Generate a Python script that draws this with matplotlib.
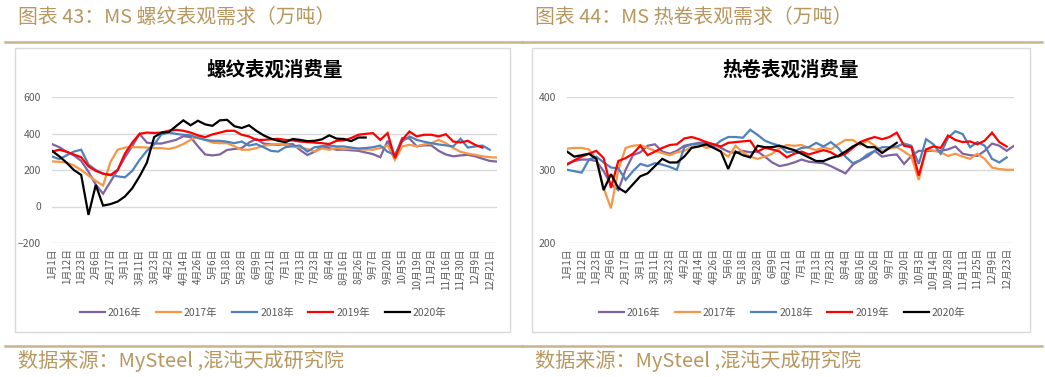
import numpy as np
import matplotlib.pyplot as plt
from matplotlib.lines import Line2D
from matplotlib.patches import Rectangle

plt.rcParams['font.family'] = ['Noto Sans CJK SC', 'DejaVu Sans']

# category labels (shown on every 2nd category)
rebar_ticks = ['1月1日', '1月12日', '1月23日', '2月6日', '2月17日', '3月1日', '3月11日', '3月23日',
               '4月2日', '4月14日', '4月26日', '5月6日', '5月18日', '5月28日', '6月9日', '6月21日',
               '7月1日', '7月13日', '7月23日', '8月4日', '8月16日', '8月26日', '9月7日', '9月20日',
               '10月5日', '10月19日', '11月2日', '11月16日', '11月30日', '12月9日', '12月21日']
coil_ticks = ['1月1日', '1月12日', '1月23日', '2月6日', '2月17日', '3月1日', '3月11日', '3月23日',
              '4月2日', '4月14日', '4月26日', '5月6日', '5月18日', '5月28日', '6月9日', '6月21日',
              '7月1日', '7月13日', '7月23日', '8月4日', '8月16日', '8月26日', '9月7日', '9月20日',
              '10月3日', '10月14日', '10月28日', '11月11日', '11月25日', '12月9日', '12月23日']
years = ['2016年', '2017年', '2018年', '2019年', '2020年']
colors = ['#8064A2', '#F79646', '#4F81BD', '#FF0000', '#000000']

# 螺纹表观消费量 (万吨)
rebar_2016 = [342, 325, 300, 280, 250, 190, 120, 70, 135, 200, 270, 330, 398, 350, 345, 345, 355, 365,
              385, 380, 330, 285, 280, 285, 310, 315, 320, 350, 370, 345, 340, 338, 340, 342, 310, 282,
              300, 330, 320, 311, 311, 308, 305, 296, 287, 270, 360, 275, 375, 372, 330, 335, 335, 305,
              285, 275, 280, 283, 275, 262, 250, 246]
rebar_2017 = [247, 245, 240, 225, 200, 170, 140, 115, 243, 311, 323, 325, 325, 323, 320, 320, 315, 325,
              342, 365, 385, 365, 350, 347, 347, 330, 311, 311, 320, 333, 338, 342, 338, 330, 323, 315,
              301, 318, 311, 320, 315, 316, 314, 312, 311, 320, 334, 256, 329, 338, 330, 340, 347, 365,
              347, 320, 300, 290, 283, 275, 270, 268]
rebar_2018 = [274, 260, 280, 301, 311, 230, 200, 180, 174, 165, 160, 195, 255, 305, 340, 395, 405, 398,
              393, 390, 375, 365, 360, 360, 355, 347, 356, 334, 342, 325, 305, 301, 325, 330, 334, 301,
              325, 330, 334, 329, 329, 323, 318, 320, 325, 334, 300, 283, 356, 384, 365, 355, 347, 340,
              335, 329, 371, 323, 329, 334, 311]
rebar_2019 = [301, 311, 300, 285, 270, 220, 195, 180, 172, 200, 290, 350, 398, 405, 403, 405, 415, 420,
              415, 405, 390, 380, 395, 405, 415, 415, 393, 384, 365, 365, 368, 371, 365, 362, 356, 353,
              350, 347, 342, 360, 362, 375, 393, 398, 402, 365, 402, 265, 365, 411, 384, 393, 393, 384,
              396, 356, 351, 360, 338, 323]
rebar_2020 = [305, 275, 240, 200, 173, -46, 118, 5, 13, 27, 55, 100, 165, 240, 380, 405, 408, 440,
              472, 445, 470, 450, 442, 472, 475, 440, 430, 445, 415, 390, 372, 360, 352, 370, 365, 358,
              360, 368, 390, 372, 370, 358, 378, 378]

# 热卷表观消费量 (万吨)
coil_2016 = [308, 312, 314, 314, 312, 298, 280, 272, 300, 320, 324, 333, 335, 325, 322, 326, 333, 335,
             337, 337, 335, 330, 325, 323, 326, 324, 325, 318, 310, 305, 307, 310, 314, 311, 310, 309,
             305, 300, 295, 307, 313, 318, 326, 318, 320, 321, 308, 319, 326, 326, 326, 326, 328, 332,
             322, 320, 319, 326, 336, 333, 326, 333]
coil_2017 = [329, 330, 330, 328, 315, 275, 247, 300, 330, 333, 334, 330, 326, 323, 320, 324, 326, 331,
             335, 330, 332, 325, 318, 333, 324, 318, 315, 318, 322, 330, 334, 333, 334, 330, 327, 331,
             328, 335, 341, 341, 334, 340, 333, 326, 329, 331, 325, 318, 286, 328, 326, 324, 319, 322,
             318, 315, 322, 315, 303, 301, 300, 300]
coil_2018 = [300, 298, 296, 314, 318, 310, 303, 302, 286, 298, 308, 305, 309, 307, 304, 300, 331, 335,
             336, 334, 332, 340, 345, 345, 344, 355, 348, 340, 336, 333, 324, 325, 330, 331, 337, 332,
             338, 330, 318, 309, 313, 321, 326, 331, 331, 332, 336, 333, 308, 342, 335, 322, 344, 353,
             349, 331, 338, 333, 315, 310, 317]
coil_2019 = [307, 313, 318, 322, 326, 316, 275, 312, 316, 322, 333, 320, 325, 330, 334, 335, 343, 345,
             342, 338, 335, 332, 337, 338, 339, 340, 325, 330, 328, 325, 317, 322, 325, 321, 324, 327,
             324, 318, 322, 330, 338, 342, 345, 342, 345, 351, 333, 331, 292, 328, 332, 330, 347, 341,
             338, 339, 335, 340, 351, 338, 332]
coil_2020 = [325, 318, 320, 322, 315, 272, 294, 275, 269, 280, 291, 295, 305, 315, 310, 310, 318, 330,
             332, 335, 330, 325, 301, 325, 320, 317, 333, 331, 331, 333, 330, 327, 322, 317, 312, 312,
             316, 319, 325, 332, 337, 331, 331, 323, 330, 337]

W, H = 1045, 377
fig = plt.figure(figsize=(W / 100, H / 100), dpi=100)

gold = '#B8975F'
rule = '#C8B48E'


def fx(x):
    return x / W


def fy(y):
    return 1 - y / H


def panel(x0, x1, title_txt, chart_title, series, ticks, ylim, yticks, plot_box, legend_x):
    # heading + rules
    fig.text(fx(x0 + 13), fy(17), title_txt, fontsize=14.3, color=gold, va='center', ha='left')
    fig.add_artist(Line2D([fx(x0), fx(x1)], [fy(42), fy(42)], color=rule, lw=1.8))
    fig.add_artist(Line2D([fx(x0), fx(x1)], [fy(346), fy(346)], color=rule, lw=1.8))
    fig.text(fx(x0 + 13), fy(361), '数据来源：MySteel ,混沌天成研究院', fontsize=14.5,
             color=gold, va='center', ha='left')
    # chart frame
    bx0, bx1 = x0 + 10, x1 - 12
    fig.add_artist(Rectangle((fx(bx0), fy(332)), fx(bx1) - fx(bx0), fy(48) - fy(332),
                             fill=False, edgecolor='#D9D9D9', lw=1.0))
    fig.text(fx((plot_box[0] + plot_box[1]) / 2), fy(70), chart_title, fontsize=14,
             fontweight='bold', ha='center', va='center')

    px0, px1, py0, py1 = plot_box
    ax = fig.add_axes([fx(px0), fy(py1), fx(px1) - fx(px0), fy(py0) - fy(py1)])
    for vals, c, lab in zip(series, colors, years):
        ax.plot(np.arange(len(vals)), vals, color=c, lw=1.6, label=lab, solid_joinstyle='miter')
    ax.set_xlim(0, 61)
    ax.set_ylim(*ylim)
    ax.set_yticks(yticks)
    ax.set_xticks(np.arange(0, 2 * len(ticks), 2))
    ax.set_xticklabels(ticks, rotation=90, fontsize=7, color='#595959')
    ax.tick_params(axis='y', labelsize=7.5, labelcolor='#595959', length=0, pad=8)
    ax.tick_params(axis='x', length=0, pad=4)
    ax.grid(axis='y', color='#D9D9D9', lw=1)
    ax.set_axisbelow(True)
    for s in ax.spines.values():
        s.set_visible(False)
    fig.legend(*ax.get_legend_handles_labels(), loc='center', ncol=5,
               bbox_to_anchor=(fx(legend_x), fy(313)), frameon=False,
               fontsize=7.5, handlelength=2.4, columnspacing=1.4, handletextpad=0.3,
               labelcolor='#595959')
    return ax


panel(5, 522, '图表 43：MS 螺纹表观需求（万吨）', '螺纹表观消费量',
      [rebar_2016, rebar_2017, rebar_2018, rebar_2019, rebar_2020], rebar_ticks,
      (-200, 600), [-200, 0, 200, 400, 600], (52, 497, 97, 243), 263)
panel(522, 1042, '图表 44：MS 热卷表观需求（万吨）', '热卷表观消费量',
      [coil_2016, coil_2017, coil_2018, coil_2019, coil_2020], coil_ticks,
      (200, 400), [200, 300, 400], (567, 1014, 97, 242.5), 782)

fig.savefig('out.png', dpi=100)
